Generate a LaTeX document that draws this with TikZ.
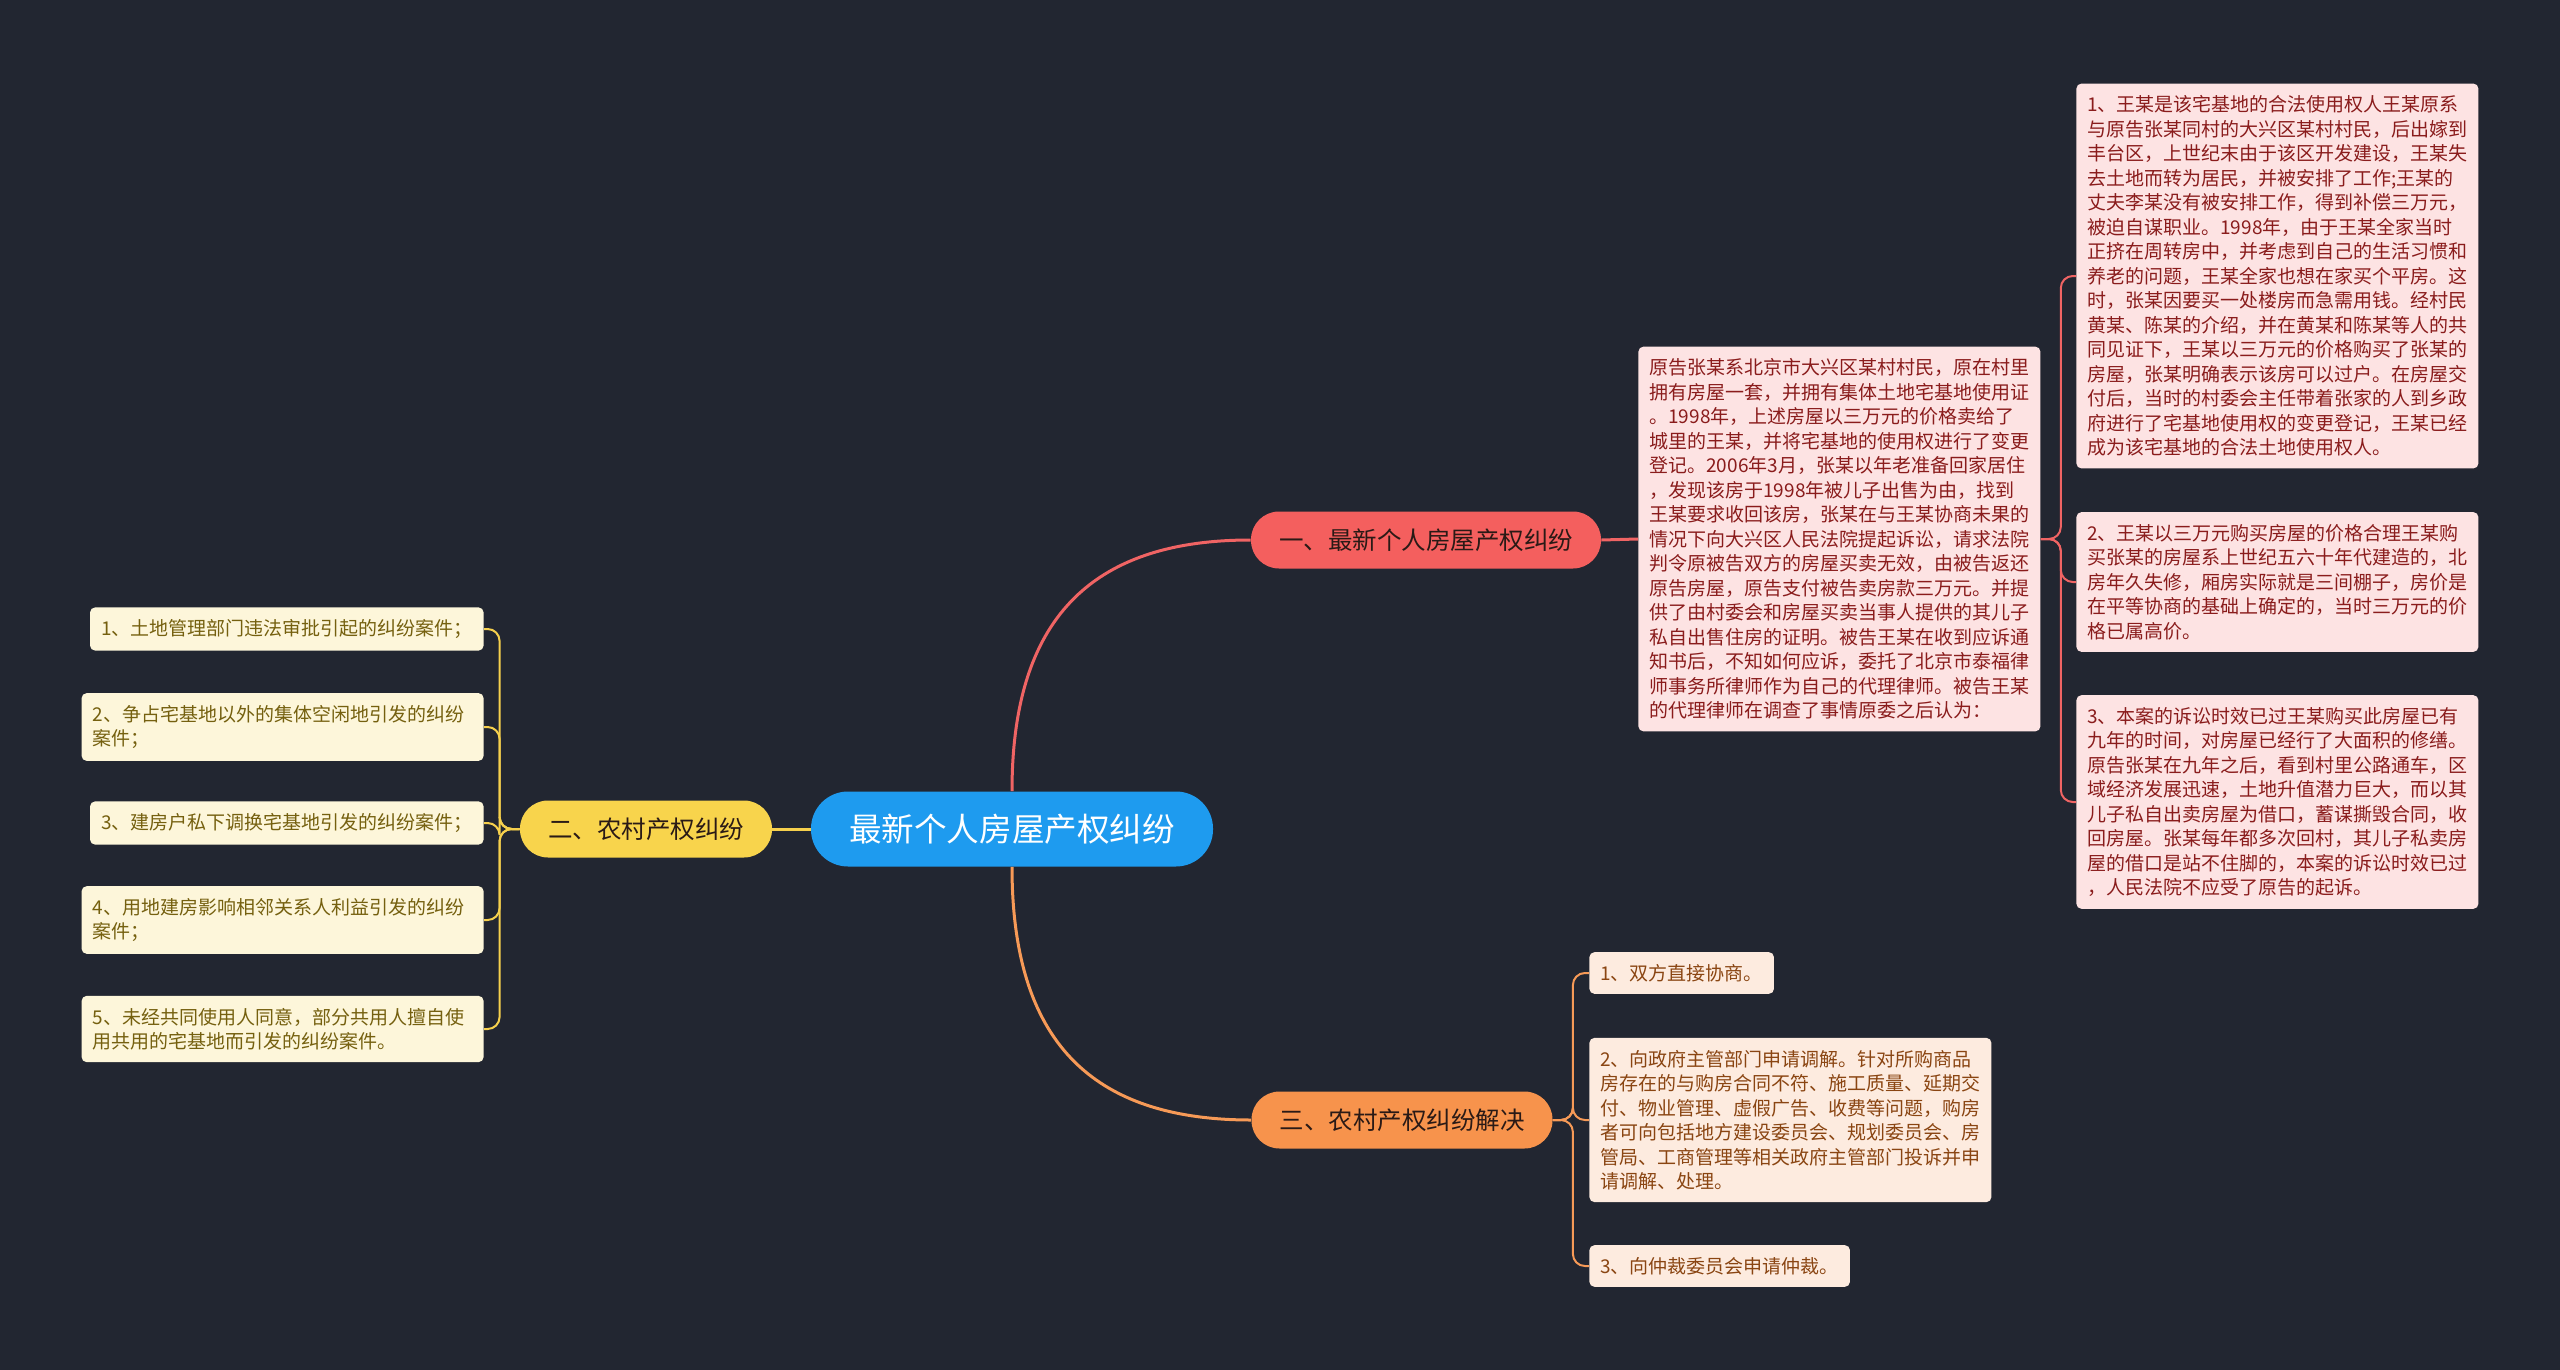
\documentclass[tikz,border=0pt]{standalone}
\usepackage{fontspec}
\setmainfont{Noto Sans CJK SC}

\definecolor{bgcol}{HTML}{222631}
\definecolor{rootblue}{HTML}{1E9BEF}
\definecolor{topicred}{HTML}{F45F5E}
\definecolor{topicyellow}{HTML}{F8D44C}
\definecolor{topicorange}{HTML}{F7934C}
\definecolor{topictext}{HTML}{2A1A16}
\definecolor{leafredfill}{HTML}{FDE3E3}
\definecolor{leafredtext}{HTML}{8A1C1C}
\definecolor{leafyellowfill}{HTML}{FDF6DA}
\definecolor{leafyellowtext}{HTML}{75600F}
\definecolor{leaforangefill}{HTML}{FDEBDF}
\definecolor{leaforangetext}{HTML}{8A4512}
\definecolor{redline}{HTML}{F06464}
\definecolor{yellowline}{HTML}{F6D04D}
\definecolor{orangeline}{HTML}{F79A57}

\begin{document}
\begin{tikzpicture}[x=0.5pt, y=-0.5pt,
    rootnode/.style={fill=rootblue, text=white, font=\fontsize{16.3}{20}\selectfont,
        inner xsep=19pt, minimum height=37.5pt, rounded corners=18.5pt},
    topic/.style={fill=#1, text=topictext, font=\fontsize{12.25}{15}\selectfont,
        inner xsep=14pt, minimum height=28.5pt, rounded corners=14pt},
    leaf/.style={font=\fontsize{9.5}{12.25}\selectfont, align=left,
        inner xsep=5.5pt, inner ysep=6pt, rounded corners=2.5pt},
    leafred/.style={leaf, fill=leafredfill, text=leafredtext},
    leafyellow/.style={leaf, fill=leafyellowfill, text=leafyellowtext},
    leaforange/.style={leaf, fill=leaforangefill, text=leaforangetext},
    link/.style={line width=1.5pt},
    bracket/.style={line width=1pt, rounded corners=6pt}
]
    % --- 1. Canvas ---
    \fill[bgcol] (0,0) rectangle (2560,1370);
    \useasboundingbox (0,0) rectangle (2560,1370);

    % --- 2. Root and main topics ---
    \node[rootnode] (root) at (1012,829) {最新个人房屋产权纠纷};
    \node[topic=topicred] (t1) at (1426,540) {一、最新个人房屋产权纠纷};
    \node[topic=topicyellow] (t2) at (646,829) {二、农村产权纠纷};
    \node[topic=topicorange] (t3) at (1402,1120) {三、农村产权纠纷解决};

    % --- 3. Branch one (red) ---
    \node[leafred, anchor=west] (case) at (1638,539) {原告张某系北京市大兴区某村村民，原在村里\\
        拥有房屋一套，并拥有集体土地宅基地使用证\\
        。1998年，上述房屋以三万元的价格卖给了\\
        城里的王某，并将宅基地的使用权进行了变更\\
        登记。2006年3月，张某以年老准备回家居住\\
        ，发现该房于1998年被儿子出售为由，找到\\
        王某要求收回该房，张某在与王某协商未果的\\
        情况下向大兴区人民法院提起诉讼，请求法院\\
        判令原被告双方的房屋买卖无效，由被告返还\\
        原告房屋，原告支付被告卖房款三万元。并提\\
        供了由村委会和房屋买卖当事人提供的其儿子\\
        私自出售住房的证明。被告王某在收到应诉通\\
        知书后，不知如何应诉，委托了北京市泰福律\\
        师事务所律师作为自己的代理律师。被告王某\\
        的代理律师在调查了事情原委之后认为：};
    \node[leafred, anchor=west] (view1) at (2076,276) {1、王某是该宅基地的合法使用权人王某原系\\
        与原告张某同村的大兴区某村村民，后出嫁到\\
        丰台区，上世纪末由于该区开发建设，王某失\\
        去土地而转为居民，并被安排了工作;王某的\\
        丈夫李某没有被安排工作，得到补偿三万元，\\
        被迫自谋职业。1998年，由于王某全家当时\\
        正挤在周转房中，并考虑到自己的生活习惯和\\
        养老的问题，王某全家也想在家买个平房。这\\
        时，张某因要买一处楼房而急需用钱。经村民\\
        黄某、陈某的介绍，并在黄某和陈某等人的共\\
        同见证下，王某以三万元的价格购买了张某的\\
        房屋，张某明确表示该房可以过户。在房屋交\\
        付后，当时的村委会主任带着张家的人到乡政\\
        府进行了宅基地使用权的变更登记，王某已经\\
        成为该宅基地的合法土地使用权人。};
    \node[leafred, anchor=west] (view2) at (2076,582) {2、王某以三万元购买房屋的价格合理王某购\\
        买张某的房屋系上世纪五六十年代建造的，北\\
        房年久失修，厢房实际就是三间棚子，房价是\\
        在平等协商的基础上确定的，当时三万元的价\\
        格已属高价。};
    \node[leafred, anchor=west] (view3) at (2076,802) {3、本案的诉讼时效已过王某购买此房屋已有\\
        九年的时间，对房屋已经行了大面积的修缮。\\
        原告张某在九年之后，看到村里公路通车，区\\
        域经济发展迅速，土地升值潜力巨大，而以其\\
        儿子私自出卖房屋为借口，蓄谋撕毁合同，收\\
        回房屋。张某每年都多次回村，其儿子私卖房\\
        屋的借口是站不住脚的，本案的诉讼时效已过\\
        ，人民法院不应受了原告的起诉。};

    % --- 4. Branch two (yellow) ---
    \node[leafyellow, anchor=east] (kind1) at (484,629) {1、土地管理部门违法审批引起的纠纷案件；};
    \node[leafyellow, text width=190pt, anchor=east] (kind2) at (484,727) {2、争占宅基地以外的集体空闲地引发的纠纷\\案件；};
    \node[leafyellow, anchor=east] (kind3) at (484,823) {3、建房户私下调换宅基地引发的纠纷案件；};
    \node[leafyellow, text width=190pt, anchor=east] (kind4) at (484,920) {4、用地建房影响相邻关系人利益引发的纠纷\\案件；};
    \node[leafyellow, text width=190pt, anchor=east] (kind5) at (484,1029) {5、未经共同使用人同意，部分共用人擅自使\\用共用的宅基地而引发的纠纷案件。};

    % --- 5. Branch three (orange) ---
    \node[leaforange, anchor=west] (way1) at (1589,973) {1、双方直接协商。};
    \node[leaforange, anchor=west] (way2) at (1589,1120) {2、向政府主管部门申请调解。针对所购商品\\
        房存在的与购房合同不符、施工质量、延期交\\
        付、物业管理、虚假广告、收费等问题，购房\\
        者可向包括地方建设委员会、规划委员会、房\\
        管局、工商管理等相关政府主管部门投诉并申\\
        请调解、处理。};
    \node[leaforange, anchor=west] (way3) at (1589,1266) {3、向仲裁委员会申请仲裁。};

    % --- 6. Connectors ---
    \draw[link, redline] (root.north) .. controls (1012,620) and (1090,540) .. (t1.west);
    \draw[link, orangeline] (root.south) .. controls (1012,1040) and (1090,1120) .. (t3.west);
    \draw[link, yellowline] (root.west) -- (t2.east);
    \draw[link, redline] (t1.east) -- (case.west);
    \foreach \n in {view1, view2, view3}
        \draw[bracket, redline] (case.east) -- ++(20,0) |- (\n.west);
    \foreach \n in {kind1, kind2, kind3, kind4, kind5}
        \draw[bracket, yellowline] (t2.west) -- ++(-20,0) |- (\n.east);
    \foreach \n in {way1, way2, way3}
        \draw[bracket, orangeline] (t3.east) -- ++(20,0) |- (\n.west);
\end{tikzpicture}
\end{document}
